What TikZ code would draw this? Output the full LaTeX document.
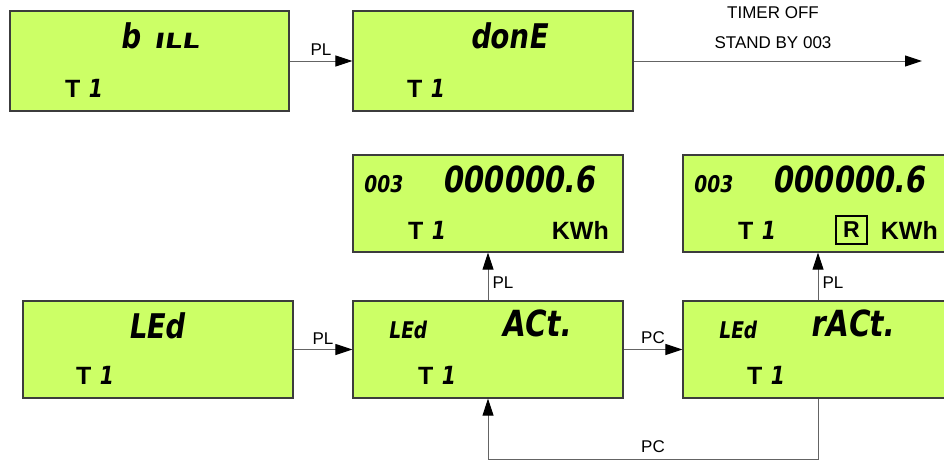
\documentclass[tikz,border=0pt]{standalone}
\usepackage{fontspec}
\setmainfont{Liberation Sans}
\newfontfamily\lcd[FakeSlant=0.15,FakeStretch=0.9]{DejaVu Sans Condensed Bold}
\newfontfamily\lcdw[FakeSlant=0.15,FakeStretch=1.45]{DejaVu Sans Condensed Bold}
\newfontfamily\bsans{Liberation Sans Bold}
\usetikzlibrary{arrows.meta}
\definecolor{lcdgreen}{RGB}{204,255,102}
\definecolor{edge}{RGB}{60,60,60}
\definecolor{wire}{RGB}{100,100,100}
\tikzset{
  lcdbox/.style={draw=edge, line width=1.3pt, fill=lcdgreen, minimum width=270pt, minimum height=97pt, inner sep=0pt},
  arr/.style={draw=wire, line width=1pt, -{Triangle[length=17pt,width=11pt,color=black]}},
  lbl/.style={font=\fontsize{17}{17}\selectfont, inner sep=5pt},
  txt/.style={inner sep=0pt, anchor=base west},
  big/.style={txt, font=\lcd\fontsize{36}{36}\selectfont},
  mid/.style={txt, font=\lcd\fontsize{34}{34}\selectfont},
  small/.style={txt, font=\lcd\fontsize{23}{23}\selectfont},
  bold/.style={txt, font=\bsans\fontsize{25}{25}\selectfont},
}
\newcommand{\tone}{T\hspace{7pt}{\lcd 1}}
\begin{document}
\begin{tikzpicture}[x=1pt,y=-1pt]
\clip (0,0) rectangle (944,461);
\fill[white] (0,0) rectangle (944,461);
% boxes
\node[lcdbox, minimum width=279pt, minimum height=100pt] (bill) at (149.5,61) {};
\node[lcdbox, minimum width=280pt, minimum height=100pt] (done) at (493,61) {};
\node[lcdbox] (kwh) at (488,203.5) {};
\node[lcdbox] (rkwh) at (818,203.5) {};
\node[lcdbox] (led) at (158,349.5) {};
\node[lcdbox] (act) at (488,349.5) {};
\node[lcdbox] (ract) at (818,349.5) {};
% box texts
\node[mid] (billtxt) at (120,48) {b\hspace{14pt}{\lcdw\fontsize{21}{21}\selectfont ILL}};
\node[bold] (billt) at (65,97) {\tone};
\node[mid] (donetxt) at (470,48) {donE};
\node[bold] (donet) at (407,97) {\tone};
\node[small] (kwhch) at (363,192) {003};
\node[big] (kwhval) at (442,192) {000000.6};
\node[bold] (kwht) at (408,239) {\tone};
\node[bold, anchor=base east] (kwhu) at (609,239) {KWh};
\node[small] (rkwhch) at (693,192) {003};
\node[big] (rkwhval) at (772,192) {000000.6};
\node[bold] (rkwht) at (738,239) {\tone};
\node[bold, anchor=center, draw=black, line width=1.5pt, minimum width=31pt, minimum height=28pt, font=\bsans\fontsize{23}{23}\selectfont] (rmark) at (851.5,230) {R};
\node[bold, anchor=base east] (rkwhu) at (938,239) {KWh};
\node[mid] (ledtxt) at (128,338) {LEd};
\node[bold] (ledt) at (76,384) {\tone};
\node[small] (actled) at (388,338) {LEd};
\node[big] (acttxt) at (501,336) {ACt.};
\node[bold] (actt) at (418,384) {\tone};
\node[small] (ractled) at (718,338) {LEd};
\node[big] (racttxt) at (810,336) {rACt.};
\node[bold] (ractt) at (747,384) {\tone};
% connectors
\coordinate (stby) at (922,61);
\draw[arr] (bill.east) -- node[lbl, above] {PL} (done.west);
\draw[arr] (done.east) -- (stby);
\node[lbl, inner sep=0pt] (timer) at (773,13) {TIMER OFF};
\node[lbl, inner sep=0pt] (standby) at (773,43) {STAND BY 003};
\draw[arr] (led.east) -- node[lbl, above] {PL} (act.west);
\draw[arr] (act.east) -- node[lbl, above] {PC} (ract.west);
\draw[arr] (act.north) -- node[lbl, right, pos=0.37, inner sep=4pt] {PL} (kwh.south);
\draw[arr] (ract.north) -- node[lbl, right, pos=0.37, inner sep=4pt] {PL} (rkwh.south);
\draw[arr] (ract.south) -- ++(0,61) -| node[lbl, above, pos=0.25, inner sep=6pt] {PC} (act.south);
\end{tikzpicture}
\end{document}
